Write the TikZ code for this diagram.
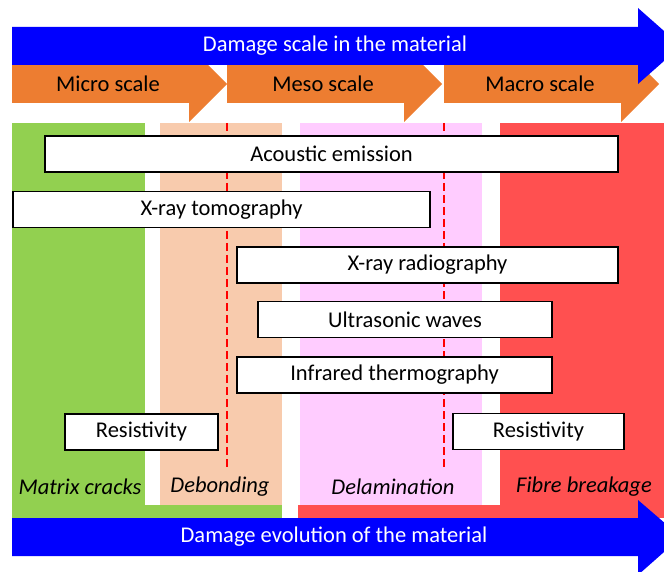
\documentclass[tikz,border=0pt]{standalone}
\usepackage{fontspec}
\setmainfont{Carlito}
\definecolor{scaleblue}{RGB}{0,0,255}
\definecolor{scaleorange}{RGB}{237,125,49}
\definecolor{matrixgreen}{RGB}{146,208,80}
\definecolor{debondpeach}{RGB}{248,203,173}
\definecolor{delampink}{RGB}{255,204,255}
\definecolor{fibrered}{RGB}{255,80,80}

\begin{document}
\begin{tikzpicture}[x=1pt,y=-1pt,font=\fontsize{22.5}{26}\selectfont,
    methodbox/.style={draw=black,line width=1.8pt,fill=white,minimum height=36pt,inner sep=0pt},
    damagelabel/.style={font=\fontsize{22.5}{26}\selectfont\itshape}]

    \useasboundingbox (0,0) rectangle (664,572);

    % Coloured columns for the damage mechanisms
    \fill[matrixgreen] (12,123) rectangle (145,518);
    \fill[matrixgreen] (12,505) rectangle (282,518);
    \fill[debondpeach] (160,123) rectangle (282,505);
    \fill[delampink] (300,123) rectangle (482,505);
    \fill[fibrered] (500,123) rectangle (664,518);
    \fill[fibrered] (298,505) rectangle (664,518);

    % Red dashed limits between the scales
    \foreach \x in {227,444} {
        \draw[red,line width=2.2pt,dash pattern=on 8pt off 4pt] (\x,123) -- (\x,467);
    }

    % Orange arrows for the three scales
    \foreach \x/\name in {12/Micro,227/Meso,444/Macro} {
        \fill[scaleorange] (\x,65) -- (\x+177,65) -- (\x+177,46) -- (\x+215,84)
            -- (\x+177,122) -- (\x+177,103) -- (\x,103) -- cycle;
        \node (\name) at (\x+96,84) {\name\ scale};
    }

    % Blue arrow on top
    \fill[scaleblue] (12,27) -- (638,27) -- (638,8) -- (681,46) -- (638,84)
        -- (638,65) -- (12,65) -- cycle;
    \node[white] (scaletitle) at (335,46) {Damage scale in the material};

    % Boxes for the techniques
    \foreach \name/\cx/\cy/\boxw/\txt in {
        acoustic/331.5/154/573/Acoustic emission,
        tomography/221.5/209.5/417/X-ray tomography,
        radiography/427.5/265/381/X-ray radiography,
        ultrasonic/405/319.5/294/Ultrasonic waves,
        thermography/394.5/375/315/Infrared thermography,
        resleft/141.5/432/153/Resistivity,
        resright/538.5/431.5/171/Resistivity} {
        \node[methodbox,minimum width=\boxw pt] (\name) at (\cx,\cy) {\txt};
    }

    % Damage mechanisms
    \node[damagelabel] (matrix) at (80,487) {Matrix cracks};
    \node[damagelabel] (debonding) at (220,487) {Debonding};
    \node[damagelabel] (delamination) at (393,487) {Delamination};
    \node[damagelabel] (fibre) at (584,487) {Fibre breakage};

    % Blue arrow at the bottom
    \fill[scaleblue] (12,518) -- (638,518) -- (638,500) -- (681,537) -- (638,575)
        -- (638,556) -- (12,556) -- cycle;
    \node[white] (evolution) at (334,537) {Damage evolution of the material};
\end{tikzpicture}
\end{document}
